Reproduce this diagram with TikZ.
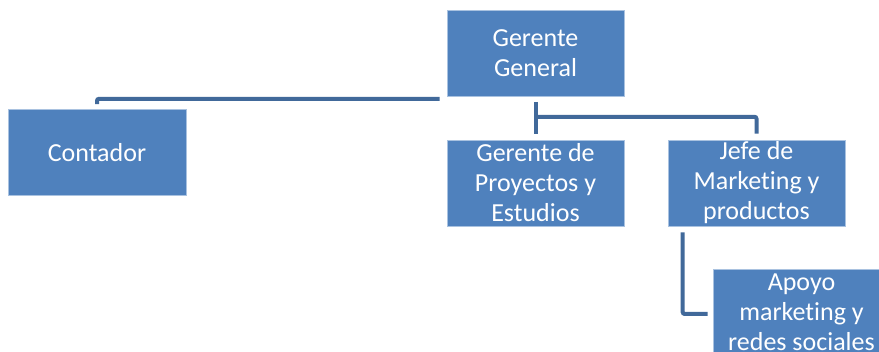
\documentclass[tikz,border=0pt]{standalone}
\usepackage{fontspec}
\setmainfont[Ligatures={NoCommon}]{Carlito}
\definecolor{boxfill}{HTML}{4F81BD}
\definecolor{boxedge}{HTML}{A9C2E0}
\definecolor{linecol}{HTML}{41699A}
\begin{document}
\begin{tikzpicture}[x=1pt,y=-1pt,
  orgbox/.style={rectangle, fill=boxfill, draw=boxedge, line width=0.6pt,
    minimum width=177pt, minimum height=86pt, inner sep=0pt,
    text=white, align=center, font=\fontsize{26}{30}\selectfont},
  conn/.style={draw=linecol, line width=4pt, rounded corners=2pt}]
\useasboundingbox (0,0) rectangle (879,352);
\node[orgbox] (gg) at (535.5,53.5) {Gerente\\General};
\node[orgbox, minimum width=178pt] (cont) at (97,152.5) {Contador};
\node[orgbox] (gp) at (535.5,183) {Gerente de\\Proyectos y\\Estudios};
\node[orgbox] (jefe) at (756.5,183) {Jefe de\\Marketing y\\productos};
\node[orgbox] (apoyo) at (801.5,312) {Apoyo\\marketing y\\redes sociales};
\draw[conn] ([xshift=-7pt,yshift=-2pt]gg.south west) -| ([yshift=5pt]cont.north);
\draw[conn] ([yshift=-5pt]gg.south) -- ([yshift=6pt]gp.north);
\draw[conn] ([yshift=-20pt]gg.south) -| ([yshift=6pt]jefe.north);
\draw[conn] ([xshift=15pt,yshift=-6pt]jefe.south west) |- ([xshift=-5pt,yshift=-2pt]apoyo.west);
\end{tikzpicture}
\end{document}
